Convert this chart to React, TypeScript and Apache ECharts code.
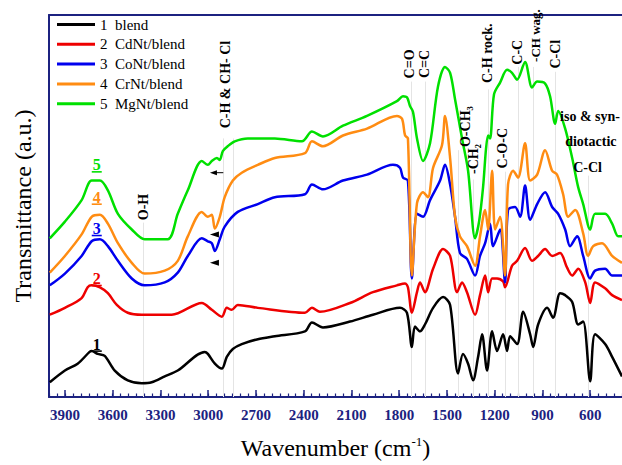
import React, { useEffect, useRef } from 'react';
import * as echarts from 'echarts';

const FONT = '"Liberation Serif", "Times New Roman", serif';
const NAVY = '#1c2280';

const seriesNames = ['1 blend', '2 CdNt/blend', '3 CoNt/blend', '4 CrNt/blend', '5 MgNt/blend'];
const seriesColors = ['#000000', '#ee0000', '#0000ee', '#ff8c12', '#00e000'];

const blend = [[3995,15],[3900,27],[3820,34],[3745,46],[3732,47],[3694,44],[3650,42],[3587,27],[3505,17],[3417,14],[3355,15],[3273,21],[3191,27],[3021,46],[3002,44],[2958,34],[2914,29],[2883,41],[2845,49],[2789,54],[2688,59],[2581,62],[2392,67],[2348,76],[2279,71],[2109,77],[1965,84],[1795,91],[1751,86],[1720,51],[1701,72],[1669,67],[1638,74],[1587,91],[1524,102],[1480,94],[1430,24],[1399,44],[1367,34],[1336,17],[1304,41],[1279,64],[1248,27],[1216,67],[1185,47],[1147,64],[1122,47],[1103,62],[1059,54],[1021,87],[977,64],[958,51],[927,74],[870,91],[833,81],[789,106],[757,104],[713,97],[675,74],[644,77],[600,16],[569,64],[506,54],[462,41],[400,21]];

const cdNt = [[3995,84],[3900,91],[3795,101],[3757,112],[3732,114],[3680,112],[3630,106],[3574,94],[3505,86],[3417,84],[3229,84],[3040,96],[2977,89],[2914,82],[2883,91],[2852,89],[2814,94],[2688,91],[2392,86],[2348,91],[2298,87],[2109,96],[1965,107],[1814,114],[1763,116],[1745,112],[1720,86],[1688,107],[1669,117],[1638,107],[1587,131],[1524,151],[1480,144],[1436,107],[1405,117],[1374,107],[1323,84],[1292,104],[1260,124],[1241,107],[1216,121],[1185,121],[1147,118],[1135,112],[1091,134],[1059,139],[1009,152],[965,139],[927,144],[883,151],[839,144],[789,147],[745,132],[713,124],[675,131],[631,117],[600,96],[569,117],[506,111],[462,104],[400,99]];

const coNt = [[3995,114],[3900,126],[3795,144],[3732,159],[3680,161],[3630,154],[3567,139],[3480,121],[3399,114],[3273,117],[3191,127],[3128,144],[3040,162],[3002,159],[2977,157],[2958,149],[2927,161],[2896,174],[2814,189],[2688,197],[2581,204],[2392,207],[2348,217],[2279,212],[2153,221],[2002,227],[1839,237],[1795,234],[1776,224],[1745,221],[1720,121],[1688,187],[1650,184],[1606,201],[1543,221],[1512,237],[1480,217],[1449,184],[1418,147],[1374,141],[1323,124],[1292,144],[1260,157],[1229,177],[1210,154],[1166,171],[1135,117],[1116,191],[1072,194],[1040,184],[1009,216],[977,181],[933,197],[883,209],[839,194],[801,187],[757,171],[726,154],[682,164],[644,144],[600,121],[569,129],[506,131],[462,124],[400,124]];

const crNt = [[3995,127],[3900,144],[3795,166],[3732,184],[3680,186],[3630,177],[3567,157],[3480,137],[3399,126],[3273,129],[3191,139],[3128,164],[3040,189],[3002,184],[2977,186],[2958,172],[2927,184],[2896,204],[2845,221],[2789,229],[2688,237],[2581,244],[2392,249],[2348,261],[2279,256],[2153,267],[2002,274],[1814,287],[1782,284],[1763,267],[1745,264],[1720,124],[1688,198],[1650,209],[1619,204],[1587,234],[1531,257],[1512,287],[1480,244],[1449,184],[1418,164],[1374,154],[1323,134],[1292,164],[1260,191],[1241,171],[1216,231],[1197,171],[1166,184],[1135,124],[1116,217],[1084,231],[1053,224],[1009,259],[977,221],[933,227],[883,252],[839,231],[808,227],[770,207],[738,184],[694,191],[644,167],[613,144],[581,154],[525,157],[462,144],[400,137]];

const mgNt = [[3995,162],[3900,179],[3795,201],[3732,221],[3680,221],[3630,211],[3567,187],[3480,171],[3399,161],[3254,161],[3191,187],[3128,211],[3040,241],[3002,237],[2977,241],[2945,244],[2927,242],[2908,251],[2877,256],[2833,261],[2751,264],[2581,264],[2411,261],[2348,271],[2279,266],[2153,277],[2002,287],[1814,302],[1776,307],[1751,306],[1732,297],[1713,291],[1688,264],[1650,241],[1606,259],[1556,317],[1512,337],[1480,331],[1449,304],[1405,264],[1367,231],[1323,162],[1298,179],[1273,214],[1254,254],[1241,267],[1229,264],[1204,309],[1166,321],[1122,334],[1091,331],[1059,324],[1009,342],[965,316],[933,322],[883,320],[852,307],[820,279],[801,292],[757,274],[713,244],[675,214],[644,197],[600,171],[569,187],[506,187],[462,177],[424,164],[400,164]];

const seriesData = [blend, cdNt, coNt, crNt, mgNt];

const majorTicks = [600, 900, 1200, 1500, 1800, 2100, 2400, 2700, 3000, 3300, 3600, 3900];
const minorTicks: number[] = [];
for (let w = 400; w <= 4000; w += 50) minorTicks.push(w);

// guide lines: wavenumber and top value
const guideWn = [3405, 2908, 2845, 1721, 1638, 1430, 1336, 1241, 1135, 1053, 958, 820, 613];
const guideTop = [178, 264, 264, 322, 322, 252, 222, 314, 230, 337, 337, 332, 226];

// annotations: text, wavenumber, value, rotated
const annoText = ['O-H', 'C-H & CH- Cl', 'C=O', 'C=C', 'O-CH\u2083', '-CH\u2082', 'C-H rock.', 'C-O-C', 'C-C', '-CH wag.', 'C-Cl', 'iso & syn-', 'diotactic', 'C-Cl'];
const annoWn = [3405, 2890, 1732, 1638, 1386, 1336, 1248, 1153, 1059, 946, 820, 789, 757, 707];
const annoVal = [194, 319, 340, 340, 276, 243, 351, 254, 352, 369, 350, 286, 261, 234];
const annoRot = [true, true, true, true, true, true, true, true, true, true, true, false, false, false];

// curve numbers
const numLabels = ['1', '2', '3', '4', '5'];
const numWn = 3700;
const numVal = [54, 121, 172, 204, 237];

const option: any = {
  animation: false,
  backgroundColor: '#ffffff',
  grid: { left: 49, right: 0, top: 15, bottom: 61 },
  legend: {
    data: seriesNames,
    orient: 'vertical',
    left: 52,
    top: 12,
    itemWidth: 38,
    itemHeight: 3,
    itemGap: 4.8,
    icon: 'rect',
    textStyle: { fontFamily: FONT, fontSize: 15, color: '#000' },
    formatter: (n: string) => n.replace(' ', '\u00a0\u00a0'),
  },
  xAxis: [
    {
      type: 'value', position: 'bottom', min: 400, max: 4000, inverse: true,
      axisLine: { show: true, lineStyle: { color: NAVY, width: 2 } },
      axisTick: { show: true, inside: true, length: 7, customValues: majorTicks, lineStyle: { color: NAVY, width: 1.5 } },
      axisLabel: {
        show: true, customValues: majorTicks, margin: 10, fontFamily: FONT, fontWeight: 'bold', fontSize: 15, color: NAVY,
        formatter: (v: number) => String(v),
      },
      splitLine: { show: false },
      name: '{a|Wavenumber (cm}{s|-1}{a|)}',
      nameLocation: 'middle',
      nameGap: 38,
      nameTextStyle: {
        rich: {
          a: { fontFamily: FONT, fontSize: 24, color: '#000', lineHeight: 26 },
          s: { fontFamily: FONT, fontSize: 13, color: '#000', verticalAlign: 'top', lineHeight: 26 },
        },
      },
    },
    {
      type: 'value', position: 'bottom', min: 400, max: 4000, inverse: true,
      axisLine: { show: false },
      axisTick: { show: true, inside: true, length: 3.5, customValues: minorTicks, lineStyle: { color: NAVY, width: 1.2 } },
      axisLabel: { show: false },
      splitLine: { show: false },
    },
    {
      type: 'value', position: 'top', min: 400, max: 4000, inverse: true,
      axisLine: { show: true, lineStyle: { color: NAVY, width: 2 } },
      axisTick: { show: false },
      axisLabel: { show: false },
      splitLine: { show: false },
    },
  ],
  yAxis: {
    type: 'value', min: 0, max: 390,
    axisLine: { show: true, lineStyle: { color: NAVY, width: 2 } },
    axisTick: { show: false },
    axisLabel: { show: false },
    splitLine: { show: false },
    name: 'Transmittance (a.u.)',
    nameLocation: 'middle',
    nameGap: 14,
    nameTextStyle: { fontFamily: FONT, fontSize: 24, color: '#000' },
  },
  series: seriesData.map((d, i) => {
    const s: any = {
      name: seriesNames[i],
      type: 'line',
      data: d,
      showSymbol: false,
      symbol: 'none',
      smooth: 0.3,
      color: seriesColors[i],
      lineStyle: { color: seriesColors[i], width: 2.5 },
    };
    if (i === 0) {
      s.markLine = {
        silent: true,
        z: 1,
        symbol: ['none', 'none'],
        label: { show: false },
        lineStyle: { color: '#e4e4e4', width: 1, type: 'solid' },
        data: guideWn.map((w, k) => [{ coord: [w, guideTop[k]] }, { coord: [w, 0] }]),
      };
    }
    return s;
  }),
};

export default function App() {
  const ref = useRef<HTMLDivElement>(null);
  useEffect(() => {
    const chart = echarts.init(ref.current!, null, { renderer: 'svg' });
    chart.setOption(option);
    const px = (w: number, v: number) => chart.convertToPixel({ seriesIndex: 0 }, [w, v]) as number[];
    const els: any[] = [];
    annoText.forEach((t, i) => {
      const [x, y] = px(annoWn[i], annoVal[i]);
      const rot = annoRot[i];
      els.push({
        type: 'text', x, y, rotation: rot ? Math.PI / 2 : 0, silent: true, z: 100,
        style: {
          text: t,
          font: `bold ${t === '-CH wag.' ? 13 : 14}px ${FONT}`,
          fill: '#000',
          align: rot ? 'center' : 'left',
          verticalAlign: 'middle',
          textAlign: rot ? 'center' : 'left',
          textVerticalAlign: 'middle',
        },
      });
    });
    numLabels.forEach((t, i) => {
      const [x, y] = px(numWn, numVal[i]);
      els.push({
        type: 'text', x, y, silent: true, z: 100,
        style: { text: t, font: `bold 16px ${FONT}`, fill: seriesColors[i], align: 'center', verticalAlign: 'middle', textAlign: 'center', textVerticalAlign: 'middle' },
      });
      els.push({
        type: 'line', silent: true, z: 100,
        shape: { x1: x - 5, y1: y + 7, x2: x + 5, y2: y + 7 },
        style: { stroke: seriesColors[i], lineWidth: 1.6 },
      });
    });
    // arrows near C-H band
    const a1 = px(2989, 229);
    const a2 = px(2905, 229);
    els.push({ type: 'line', silent: true, z: 100, shape: { x1: a1[0] + 3, y1: a1[1], x2: a2[0], y2: a2[1] }, style: { stroke: '#000', lineWidth: 1 } });
    els.push({ type: 'polygon', silent: true, z: 100, shape: { points: [[a1[0], a1[1]], [a1[0] + 7, a1[1] - 2.5], [a1[0] + 7, a1[1] + 2.5]] }, style: { fill: '#000' } });
    [[2989, 166], [2989, 137]].forEach(([w, v]) => {
      const p = px(w, v);
      els.push({ type: 'polygon', silent: true, z: 100, shape: { points: [[p[0], p[1]], [p[0] + 9, p[1] - 3], [p[0] + 9, p[1] + 3]] }, style: { fill: '#000' } });
    });
    chart.setOption({ graphic: { elements: els } });
    return () => chart.dispose();
  }, []);
  return <div ref={ref} style={{ position: 'absolute', left: 0, top: 0, width: 622, height: 465 }} />;
}
